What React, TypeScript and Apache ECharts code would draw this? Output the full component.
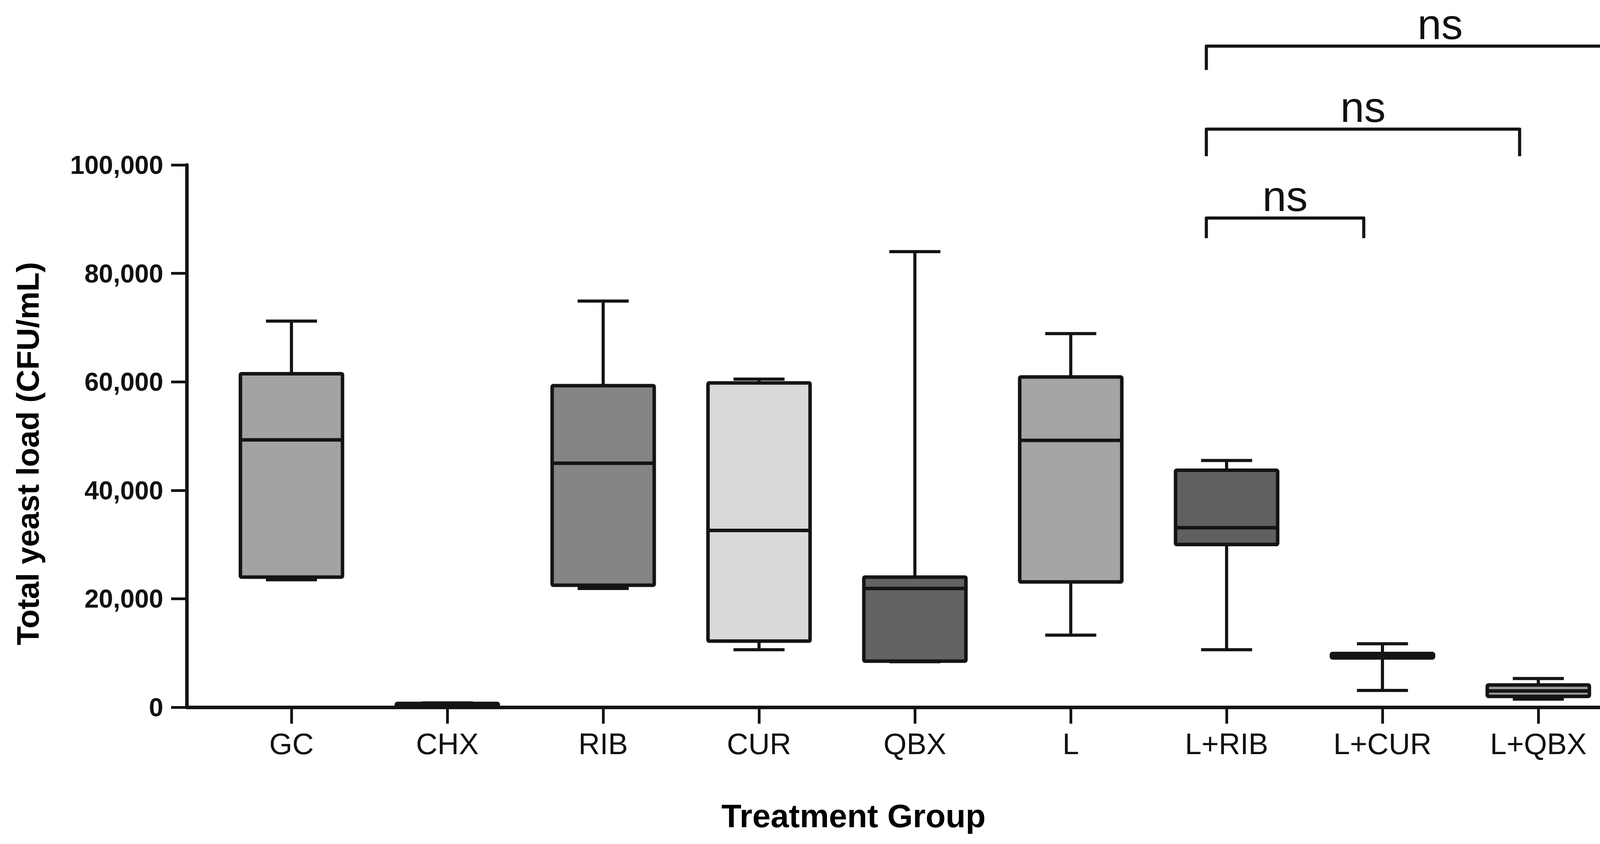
import React, { useEffect, useRef } from 'react';
import * as echarts from 'echarts';

const categories = ['GC', 'CHX', 'RIB', 'CUR', 'QBX', 'L', 'L+RIB', 'L+CUR', 'L+QBX'];
const lowWhisker = [23500, 100, 21900, 10600, 8400, 13300, 10600, 3100, 1500];
const lowerQuartile = [24000, 200, 22500, 12200, 8500, 23100, 30000, 9100, 2000];
const medians = [49300, 450, 45000, 32600, 21900, 49200, 33100, 9500, 3000];
const upperQuartile = [61500, 700, 59300, 59800, 24000, 60900, 43700, 9900, 4100];
const highWhisker = [71200, 800, 74900, 60500, 84000, 68900, 45500, 11700, 5300];
const boxColors = ['#a3a3a3', '#222222', '#858585', '#d9d9d9', '#636363', '#a5a5a8', '#606060', '#333333', '#9a9a9a'];

const yTicks = [0, 20000, 40000, 60000, 80000, 100000];

// significance brackets (x in category units, y in CFU/mL)
const bracketLeft = [5.87, 5.87, 5.87];
const bracketRight = [6.88, 7.88, 8.87];
const bracketLevel = [90200, 106600, 121900];
const bracketFoot = [86500, 101600, 117500];
const bracketText = ['ns', 'ns', 'ns'];

const INK = '#141414';

export default function App() {
  const ref = useRef<HTMLDivElement>(null);

  useEffect(() => {
    document.body.style.margin = '0';
    if (!ref.current) return;
    const chart = echarts.init(ref.current, null, { renderer: 'svg' });

    const boxData = categories.map((_, i) => [
      i,
      lowWhisker[i],
      lowerQuartile[i],
      medians[i],
      upperQuartile[i],
      highWhisker[i],
    ]);
    const bracketData = bracketLeft.map((l, i) => [l, bracketRight[i], bracketLevel[i], bracketFoot[i]]);

    chart.setOption({
      animation: false,
      backgroundColor: '#ffffff',
      grid: { left: 478, top: 422, width: 3735, height: 1388, containLabel: false },
      xAxis: {
        type: 'value',
        min: -0.672,
        max: 8.689,
        splitLine: { show: false },
        axisLine: { show: true, onZero: false, lineStyle: { color: INK, width: 9, cap: 'round' } },
        axisTick: {
          show: true,
          customValues: categories.map((_, i) => i),
          length: 42,
          lineStyle: { color: INK, width: 7 },
        },
        axisLabel: {
          show: true,
          customValues: categories.map((_, i) => i),
          formatter: (v: number) => categories[Math.round(v)] ?? '',
          margin: 55,
          fontSize: 76,
          fontFamily: '"Liberation Sans", Arial, sans-serif',
          color: '#111',
        },
      },
      yAxis: {
        type: 'value',
        min: 0,
        max: 100000,
        interval: 20000,
        splitLine: { show: false },
        axisLine: { show: true, onZero: false, lineStyle: { color: INK, width: 9 } },
        axisTick: { show: true, length: 40, lineStyle: { color: INK, width: 7 } },
        axisLabel: {
          margin: 60,
          fontSize: 66,
          fontWeight: 'bold',
          fontFamily: '"Liberation Sans", Arial, sans-serif',
          color: '#111',
          formatter: (v: number) => (yTicks.includes(v) ? v.toLocaleString('en-US') : ''),
        },
      },
      graphic: [
        {
          type: 'text',
          x: 71,
          y: 1161,
          rotation: Math.PI / 2,
          style: {
            text: 'Total yeast load (CFU/mL)',
            fontSize: 80,
            fontWeight: 'bold',
            fontFamily: '"Liberation Sans", Arial, sans-serif',
            fill: '#000',
            textAlign: 'center',
            textVerticalAlign: 'middle',
            align: 'center',
            verticalAlign: 'middle',
          },
        },
        {
          type: 'text',
          x: 2185,
          y: 2088,
          style: {
            text: 'Treatment Group',
            fontSize: 84,
            fontWeight: 'bold',
            fontFamily: '"Liberation Sans", Arial, sans-serif',
            fill: '#000',
            textAlign: 'center',
            textVerticalAlign: 'middle',
            align: 'center',
            verticalAlign: 'middle',
          },
        },
      ],
      series: [
        {
          type: 'custom',
          name: 'boxes',
          clip: false,
          encode: { x: 0, y: [1, 2, 3, 4, 5] },
          data: boxData,
          renderItem: (params: any, api: any) => {
            const x = api.value(0);
            const pMin = api.coord([x, api.value(1)]);
            const pQ1 = api.coord([x, api.value(2)]);
            const pMed = api.coord([x, api.value(3)]);
            const pQ3 = api.coord([x, api.value(4)]);
            const pMax = api.coord([x, api.value(5)]);
            const band = api.size([1, 0])[0];
            const bw = band * 0.655;
            const cx = pMed[0];
            const half = bw / 2;
            const cap = bw / 4;
            const line = { stroke: INK, lineWidth: 8 };
            return {
              type: 'group',
              children: [
                { type: 'line', shape: { x1: cx, y1: pQ3[1], x2: cx, y2: pMax[1] }, style: line },
                { type: 'line', shape: { x1: cx - cap, y1: pMax[1], x2: cx + cap, y2: pMax[1] }, style: line },
                { type: 'line', shape: { x1: cx, y1: pQ1[1], x2: cx, y2: pMin[1] }, style: line },
                { type: 'line', shape: { x1: cx - cap, y1: pMin[1], x2: cx + cap, y2: pMin[1] }, style: line },
                {
                  type: 'rect',
                  shape: { x: cx - half, y: pQ3[1], width: bw, height: pQ1[1] - pQ3[1], r: 3 },
                  style: { fill: boxColors[params.dataIndex], stroke: INK, lineWidth: 9 },
                },
                { type: 'line', shape: { x1: cx - half, y1: pMed[1], x2: cx + half, y2: pMed[1] }, style: { stroke: INK, lineWidth: 9 } },
              ],
            };
          },
        },
        {
          type: 'custom',
          name: 'brackets',
          clip: false,
          encode: { x: [0, 1], y: [2, 3] },
          data: bracketData,
          renderItem: (params: any, api: any) => {
            const a = api.coord([api.value(0), api.value(3)]);
            const b = api.coord([api.value(0), api.value(2)]);
            const c = api.coord([api.value(1), api.value(2)]);
            const d = api.coord([api.value(1), api.value(3)]);
            return {
              type: 'group',
              children: [
                {
                  type: 'polyline',
                  shape: { points: [a, b, c, d] },
                  style: { stroke: INK, lineWidth: 8, fill: 'none', lineJoin: 'round' },
                },
                {
                  type: 'text',
                  style: {
                    text: bracketText[params.dataIndex],
                    x: (b[0] + c[0]) / 2,
                    y: b[1] - 2,
                    fontSize: 110,
                    fontFamily: '"Liberation Sans", Arial, sans-serif',
                    fill: '#111',
                    textAlign: 'center',
                    textVerticalAlign: 'bottom',
                    align: 'center',
                    verticalAlign: 'bottom',
                  },
                },
              ],
            };
          },
        },
      ],
    });

    return () => chart.dispose();
  }, []);

  return <div ref={ref} style={{ width: 4306, height: 2160 }} />;
}
